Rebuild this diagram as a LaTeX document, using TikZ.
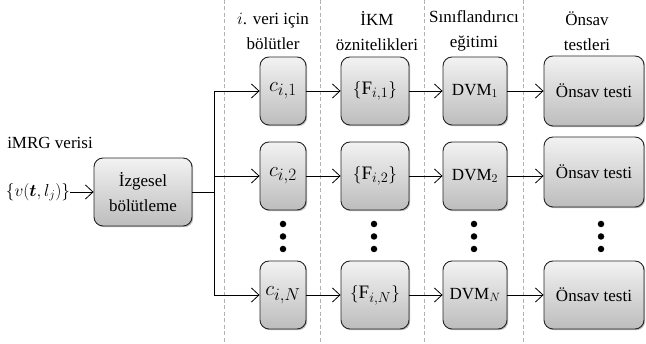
\documentclass[tikz,border=0pt]{standalone}
\usepackage{fontspec}
\setmainfont{Liberation Serif}
\usepackage{amsmath,bm}
\DeclareMathSizes{17}{17}{13}{10}
\DeclareMathSizes{19}{19}{14.5}{11}
\DeclareMathSizes{20}{20}{16}{12}
\usetikzlibrary{arrows.meta,shadows}
\begin{document}
\begin{tikzpicture}[x=1pt,y=-1pt,
  every node/.style={font=\fontsize{17}{25}\selectfont, inner sep=0pt},
  box/.style={draw=black!85, line width=0.9pt, rounded corners=9pt,
    top color=white!95!black, bottom color=white!74!black,
    drop shadow={shadow xshift=1.2pt, shadow yshift=-1.2pt, fill=black!45, opacity=0.6},
    minimum height=68pt, align=center},
  cmath/.style={font=\fontsize{20}{25}\selectfont},
  fmath/.style={font=\fontsize{19}{25}\selectfont},
  arr/.style={line width=0.8pt, -{Straight Barb[length=7.5pt,width=14pt,line width=0.8pt]}},
  sep/.style={draw=black!30, dashed, line width=0.8pt, dash pattern=on 4pt off 2.5pt},
  dot/.style={circle, fill=black, minimum size=6.5pt, inner sep=0pt},
  hdr/.style={align=center}
]
\useasboundingbox (0,0) rectangle (646,344);
% separators
\foreach \xx in {224,320,424,523} \draw[sep] (\xx,0) -- (\xx,344);
% headers
\node[hdr] (h1) at (273,31) {$i$. veri için\\bölütler};
\node[hdr] (h2) at (377,31) {İKM\\öznitelikleri};
\node[hdr] (h3) at (474,31) {Sınıflandırıcı\\eğitimi};
\node[hdr] (h4) at (587,31) {Önsav\\testleri};
% input
\node (lbl) at (50,143) {iMRG verisi};
\node (inp) at (38,192) {$\{v(\bm{t},l_j)\}$};
\node[box, minimum width=98pt] (izg) at (143,192) {İzgesel\\bölütleme};
% rows
\node[box, cmath, minimum width=46pt] (c1) at (283,91) {$c_{i,1}$};
\node[box, cmath, minimum width=46pt] (c2) at (283,176) {$c_{i,2}$};
\node[box, cmath, minimum width=46pt] (cN) at (283,295) {$c_{i,N}$};
\node[box, fmath, minimum width=68pt] (f1) at (375,91) {$\{\mathrm{F}_{i,1}\}$};
\node[box, fmath, minimum width=68pt] (f2) at (375,176) {$\{\mathrm{F}_{i,2}\}$};
\node[box, fmath, minimum width=68pt] (fN) at (375,295) {$\{\mathrm{F}_{i,N}\}$};
\node[box, minimum width=64pt] (d1) at (475,91) {DVM$_1$};
\node[box, minimum width=64pt] (d2) at (475,176) {DVM$_2$};
\node[box, minimum width=64pt] (dN) at (475,295) {DVM$_N$};
\node[box, minimum width=100pt, minimum height=70pt] (o1) at (594,91) {Önsav testi};
\node[box, minimum width=100pt, minimum height=70pt] (o2) at (594,172) {Önsav testi};
\node[box, minimum width=100pt, minimum height=68pt] (oN) at (594,295) {Önsav testi};
% dots
\foreach \nm/\xx in {c/283,f/374,d/474,o/601}{
  \node[dot] (\nm dA) at (\xx,224) {};
  \node[dot] (\nm dB) at (\xx,236.5) {};
  \node[dot] (\nm dC) at (\xx,249) {};
}
% connectors
\draw[arr] (inp.east) -- (izg.west);
\coordinate (split) at (214,192);
\draw[line width=0.8pt] (izg.east) -- (split);
\draw[line width=0.8pt] (split |- c1.west) -- (split |- cN.west);
\draw[arr] (split |- c1.west) -- (c1.west);
\draw[arr] (split |- c2.west) -- (c2.west);
\draw[arr] (split |- cN.west) -- (cN.west);
\foreach \r in {1,2,N}{
  \draw[arr] (c\r.east) -- (f\r.west);
  \draw[arr] (f\r.east) -- (d\r.west);
  \draw[arr] (d\r.east) -- (d\r.east -| o\r.west);
}
\end{tikzpicture}
\end{document}
